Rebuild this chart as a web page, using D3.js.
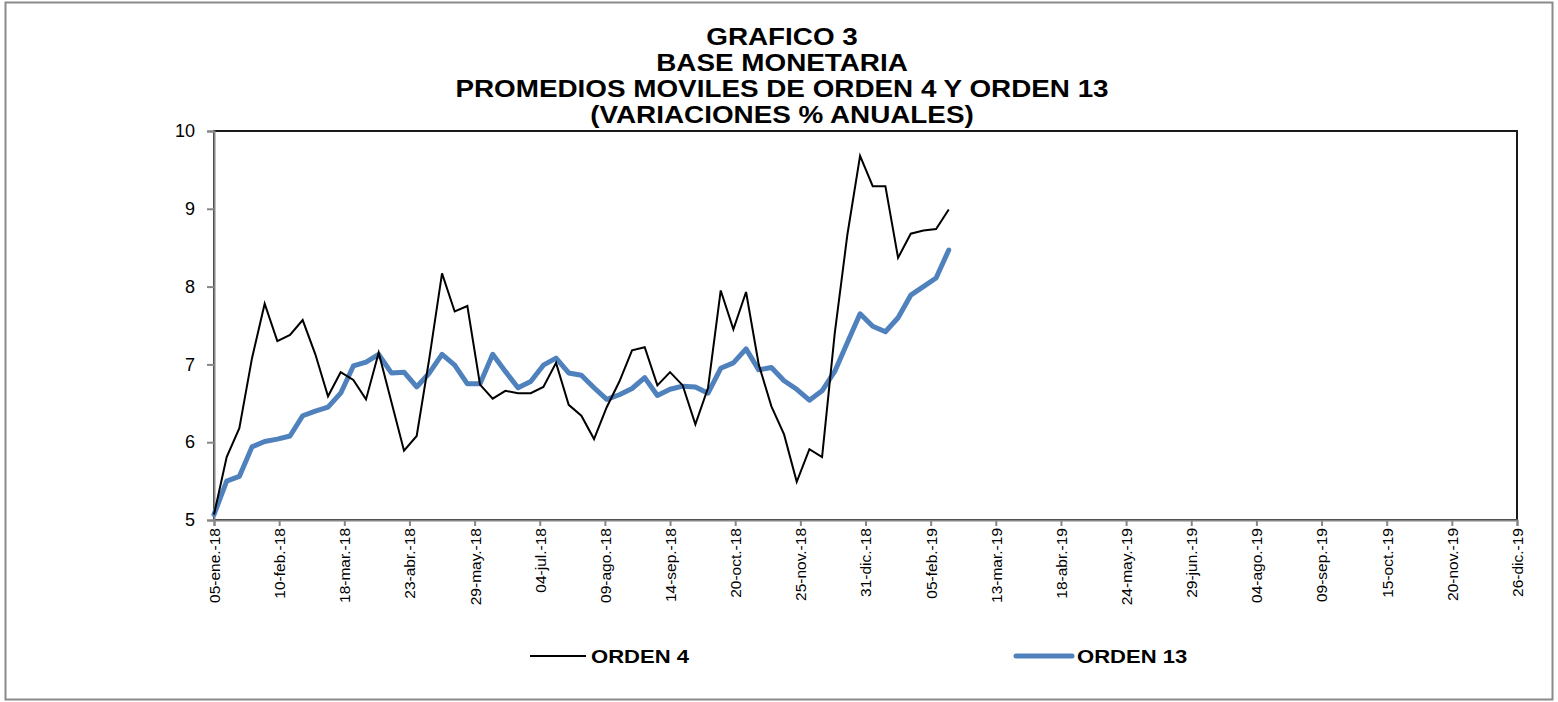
<!DOCTYPE html>
<html>
<head>
<meta charset="utf-8">
<script src="https://cdn.jsdelivr.net/npm/d3@7"></script>
<style>
  html, body { margin: 0; padding: 0; background: #fff; }
  svg { display: block; }
  text { font-family: "Liberation Sans", Arial, sans-serif; }
</style>
</head>
<body>
<svg id="chart" width="1558" height="702"></svg>
<script>
// ---------- DATA ----------
const titleLines = ["GRAFICO 3", "BASE MONETARIA", "PROMEDIOS MOVILES DE ORDEN 4 Y ORDEN 13", "(VARIACIONES % ANUALES)"];
const seriesNames = ["ORDEN 4", "ORDEN 13"];
const dates = [
  "2018-01-05","2018-01-12","2018-01-19","2018-01-26","2018-02-02","2018-02-09","2018-02-16","2018-02-23",
  "2018-03-02","2018-03-09","2018-03-16","2018-03-23","2018-03-30","2018-04-06","2018-04-13","2018-04-20",
  "2018-04-27","2018-05-04","2018-05-11","2018-05-18","2018-05-25","2018-06-01","2018-06-08","2018-06-15",
  "2018-06-22","2018-06-29","2018-07-06","2018-07-13","2018-07-20","2018-07-27","2018-08-03","2018-08-10",
  "2018-08-17","2018-08-24","2018-08-31","2018-09-07","2018-09-14","2018-09-21","2018-09-28","2018-10-05",
  "2018-10-12","2018-10-19","2018-10-26","2018-11-02","2018-11-09","2018-11-16","2018-11-23","2018-11-30",
  "2018-12-07","2018-12-14","2018-12-21","2018-12-28","2019-01-04","2019-01-11","2019-01-18","2019-01-25",
  "2019-02-01","2019-02-08","2019-02-15"
];
const orden4 = [5.07,5.81,6.18,7.08,7.78,7.30,7.38,7.57,7.13,6.59,
                6.90,6.80,6.55,7.15,6.52,5.89,6.08,7.08,8.17,7.68,
                7.75,6.74,6.56,6.66,6.63,6.63,6.71,7.02,6.48,6.34,
                6.04,6.45,6.78,7.18,7.22,6.73,6.90,6.73,6.23,6.70,
                7.95,7.45,7.93,7.00,6.46,6.10,5.49,5.91,5.81,7.40,
                8.67,9.68,9.29,9.29,8.37,8.68,8.72,8.74,8.99];
const orden13 = [5.07,5.50,5.56,5.94,6.01,6.04,6.08,6.34,6.40,6.45,
                 6.63,6.98,7.03,7.13,6.89,6.90,6.71,6.89,7.13,6.99,
                 6.75,6.75,7.13,6.91,6.70,6.78,6.99,7.08,6.89,6.86,
                 6.70,6.55,6.61,6.69,6.83,6.60,6.68,6.72,6.71,6.63,
                 6.95,7.02,7.20,6.93,6.96,6.79,6.68,6.54,6.66,6.91,
                 7.28,7.65,7.49,7.42,7.60,7.89,8.00,8.11,8.47];
const xTickDates = ["2018-01-05","2018-02-10","2018-03-18","2018-04-23","2018-05-29","2018-07-04","2018-08-09",
  "2018-09-14","2018-10-20","2018-11-25","2018-12-31","2019-02-05","2019-03-13","2019-04-18","2019-05-24",
  "2019-06-29","2019-08-04","2019-09-09","2019-10-15","2019-11-20","2019-12-26"];
const xTickLabels = ["05-ene.-18","10-feb.-18","18-mar.-18","23-abr.-18","29-may.-18","04-jul.-18","09-ago.-18",
  "14-sep.-18","20-oct.-18","25-nov.-18","31-dic.-18","05-feb.-19","13-mar.-19","18-abr.-19","24-may.-19",
  "29-jun.-19","04-ago.-19","09-sep.-19","15-oct.-19","20-nov.-19","26-dic.-19"];
const yTicks = [5, 6, 7, 8, 9, 10];

// ---------- LAYOUT ----------
const svg = d3.select("#chart");
const plot = { left: 214, right: 1517, top: 131, bottom: 520 };
const parse = d3.utcParse("%Y-%m-%d");
const x = d3.scaleUtc()
  .domain([parse(xTickDates[0]), parse(xTickDates[xTickDates.length - 1])])
  .range([plot.left, plot.right]);
const y = d3.scaleLinear().domain([5, 10]).range([plot.bottom, plot.top]);

// outer frame
svg.append("rect").attr("x", 5.5).attr("y", 2.5).attr("width", 1547).attr("height", 697)
  .attr("fill", "#fff").attr("stroke", "#8a8a8a").attr("stroke-width", 2);

// title
const tg = svg.append("g").attr("transform", "translate(782,0) scale(1.16,1)");
const titleBase = [45, 71, 97, 123];
titleLines.forEach((t, i) => {
  tg.append("text").attr("x", 0).attr("y", titleBase[i]).attr("text-anchor", "middle")
    .attr("font-weight", "bold").attr("font-size", 24).attr("fill", "#000").text(t);
});

// plot area border (top/right dark)
svg.append("rect").attr("x", plot.left).attr("y", plot.top)
  .attr("width", plot.right - plot.left).attr("height", plot.bottom - plot.top)
  .attr("fill", "none").attr("stroke", "#1a1a1a").attr("stroke-width", 2);

// y axis
const yAxis = d3.axisLeft(y).tickValues(yTicks).tickSize(7).tickPadding(12).tickFormat(d3.format("d"));
const yg = svg.append("g").attr("transform", `translate(${plot.left},0)`).call(yAxis);
yg.select(".domain").attr("stroke", "#868686").attr("stroke-width", 2);
yg.selectAll(".tick line").attr("stroke", "#868686").attr("stroke-width", 2);
yg.selectAll(".tick text").attr("font-size", 18).attr("fill", "#000")
  .attr("font-family", "'Liberation Sans', Arial, sans-serif");

// x axis
const xAxis = d3.axisBottom(x).tickValues(xTickDates.map(parse)).tickSize(6)
  .tickFormat((d, i) => xTickLabels[i]);
const xg = svg.append("g").attr("transform", `translate(0,${plot.bottom})`).call(xAxis);
xg.select(".domain").attr("stroke", "#868686").attr("stroke-width", 2);
xg.selectAll(".tick line").attr("stroke", "#868686").attr("stroke-width", 2);
xg.selectAll(".tick text")
  .attr("font-size", 15.5).attr("fill", "#000")
  .attr("font-family", "'Liberation Sans', Arial, sans-serif")
  .attr("text-anchor", "end")
  .attr("transform", "rotate(-90)")
  .attr("x", -8).attr("y", 0).attr("dy", "0.35em");

// lines
const pts4 = dates.map((d, i) => [parse(d), orden4[i]]);
const pts13 = dates.map((d, i) => [parse(d), orden13[i]]);
const line = d3.line().x(d => x(d[0])).y(d => y(d[1]));

svg.append("path").datum(pts13).attr("d", line)
  .attr("fill", "none").attr("stroke", "#4F81BD").attr("stroke-width", 5)
  .attr("stroke-linejoin", "round").attr("stroke-linecap", "round");
svg.append("path").datum(pts4).attr("d", line)
  .attr("fill", "none").attr("stroke", "#000").attr("stroke-width", 2)
  .attr("stroke-linejoin", "miter");

// legend
const legend = [
  { name: seriesNames[0], x1: 530, x2: 586, color: "#000", w: 2, cap: "butt", tx: 591 },
  { name: seriesNames[1], x1: 1016, x2: 1072, color: "#4F81BD", w: 5, cap: "round", tx: 1077 }
];
legend.forEach(l => {
  svg.append("line").attr("x1", l.x1).attr("x2", l.x2).attr("y1", 656).attr("y2", 656)
    .attr("stroke", l.color).attr("stroke-width", l.w).attr("stroke-linecap", l.cap);
  svg.append("text").attr("transform", `translate(${l.tx},663) scale(1.16,1)`)
    .attr("font-weight", "bold").attr("font-size", 19).attr("fill", "#000").text(l.name);
});
</script>
</body>
</html>
